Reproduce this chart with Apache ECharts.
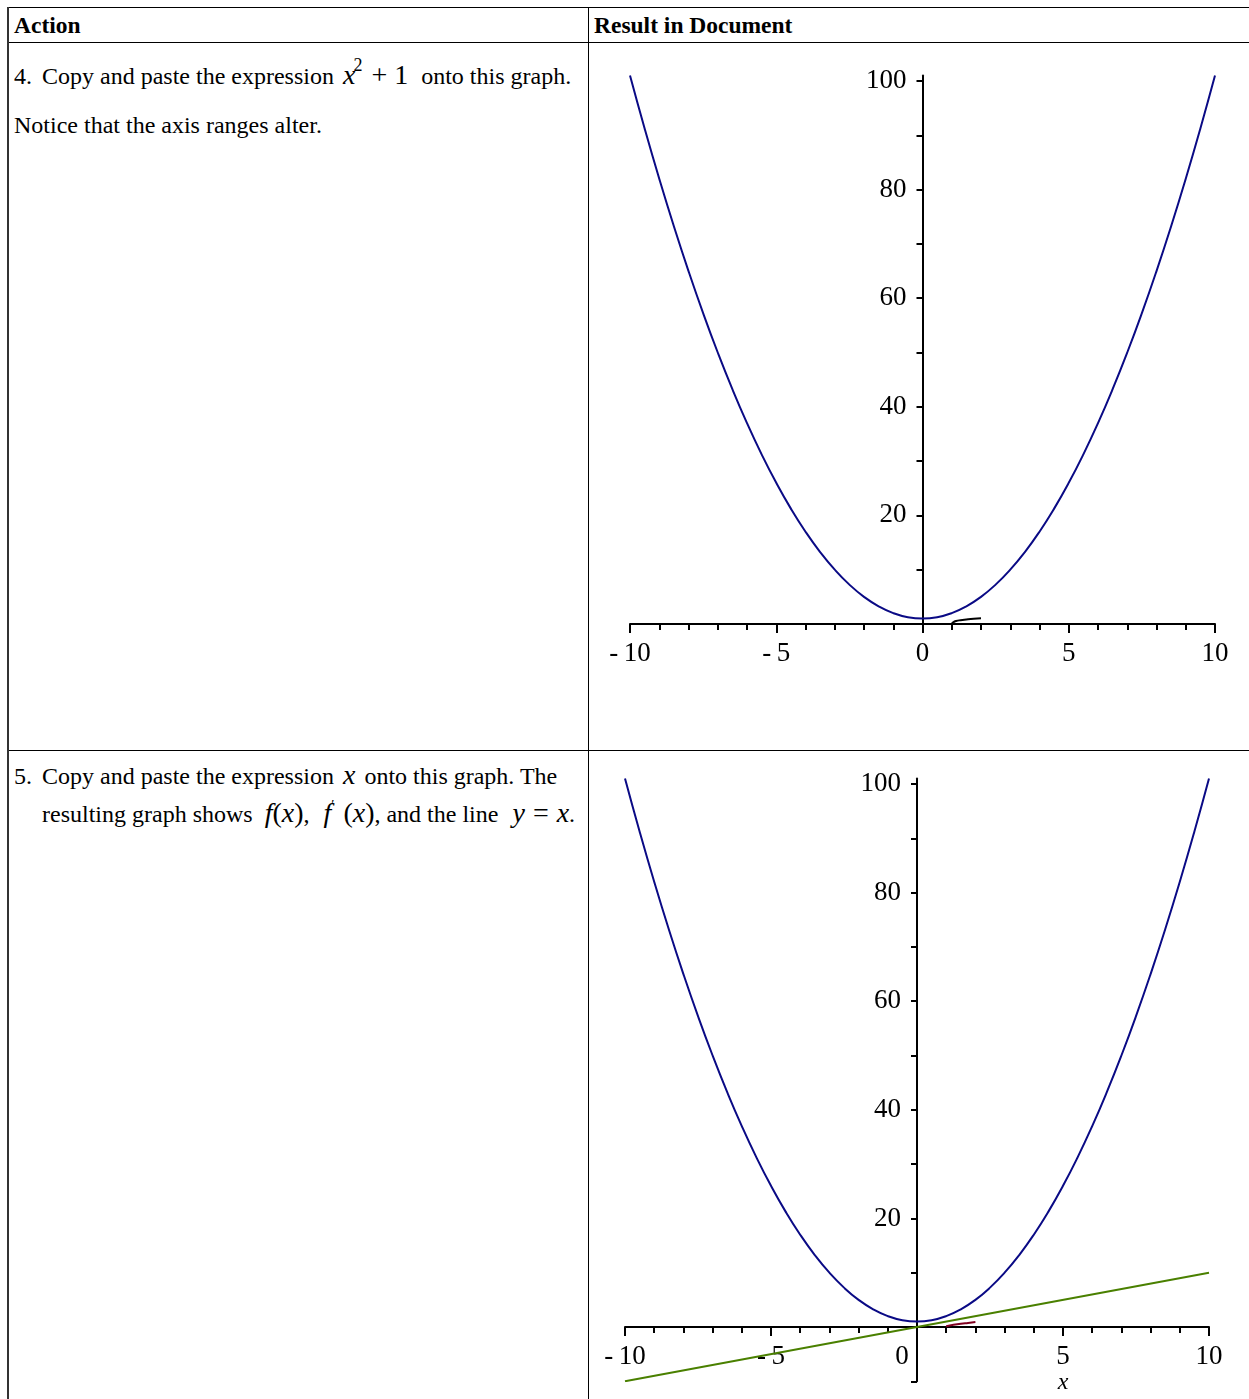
<!DOCTYPE html>
<html><head><meta charset="utf-8">
<script src="https://cdn.jsdelivr.net/npm/echarts@6/dist/echarts.min.js"></script>
<style>
html,body{margin:0;padding:0;background:#fff;width:1249px;height:1399px;overflow:hidden;}
.ln{position:absolute;background:#000;}
.t{position:absolute;font-family:'Liberation Serif','Times New Roman',serif;font-size:24px;line-height:24px;color:#000;white-space:nowrap;}
.b{font-weight:bold;font-size:23.5px;}
.m{font-style:italic;font-size:28px;line-height:0;}
.n{font-size:28px;line-height:0;}
.sp{position:relative;line-height:0;vertical-align:baseline;}
#chart{position:absolute;left:0;top:0;width:1249px;height:1399px;}
</style></head>
<body>
<div class="ln" style="left:8px;top:7px;width:1241px;height:1px;"></div>
<div class="ln" style="left:8px;top:42px;width:1241px;height:1px;"></div>
<div class="ln" style="left:8px;top:750px;width:1241px;height:1px;"></div>
<div class="ln" style="left:7px;top:7px;width:2px;height:1392px;background:#333;"></div>
<div class="ln" style="left:588px;top:7px;width:1px;height:1392px;"></div>

<div class="t b" style="left:14px;top:13px;">Action</div>
<div class="t b" style="left:594px;top:13px;">Result in Document</div>

<div class="t" style="left:14px;top:64px;">4.</div>
<div class="t" style="left:42px;top:64px;">Copy and paste the expression <span class="m" style="margin-left:3px;">x</span><span class="sp" style="font-size:18px;top:-13px;margin-left:-2px;">2</span><span class="n" style="margin-left:9px;">+</span><span class="n" style="margin-left:7px;margin-right:7px;">1</span> onto this graph.</div>
<div class="t" style="left:14px;top:113px;">Notice that the axis ranges alter.</div>

<div class="t" style="left:14px;top:764px;">5.</div>
<div class="t" style="left:42px;top:764px;">Copy and paste the expression <span class="m" style="margin:0 3px 0 3px;">x</span> onto this graph. The</div>
<div class="t" style="left:42px;top:802px;">resulting graph shows <span class="m" style="margin-left:6px;">f</span><span class="n">(</span><span class="m">x</span><span class="n">)</span>, <span class="m" style="margin-left:8px;">f</span><span class="sp" style="font-size:14px;top:-12px;">&#x2032;</span> <span class="n" style="margin-left:3px;">(</span><span class="m">x</span><span class="n">)</span>, and the line <span class="m" style="margin-left:8px;">y</span> <span class="n" style="margin:0 2px;">=</span> <span class="m">x</span>.</div>

<div id="chart"></div>
<script>
// ---- data ----
const curveX = [-10,-9.5,-9,-8.5,-8,-7.5,-7,-6.5,-6,-5.5,-5,-4.5,-4,-3.5,-3,-2.5,-2,-1.5,-1,-0.5,0,0.5,1,1.5,2,2.5,3,3.5,4,4.5,5,5.5,6,6.5,7,7.5,8,8.5,9,9.5,10];
const curveY = [101,91.25,82,73.25,65,57.25,50,43.25,37,31.25,26,21.25,17,13.25,10,7.25,5,3.25,2,1.25,1,1.25,2,3.25,5,7.25,10,13.25,17,21.25,26,31.25,37,43.25,50,57.25,65,73.25,82,91.25,101];
const lineX = [-10, 10];
const lineY = [-10, 10];
const smallX1 = [1, 1.05, 1.15, 1.3, 1.5, 1.75, 2];
const smallY1 = [0, 0.3, 0.55, 0.7, 0.82, 0.95, 1.05];
const smallX2 = [1, 1.25, 1.5, 1.75, 2];
const smallY2 = [0.15, 0.4, 0.6, 0.75, 0.9];
const yTicks1 = [0,10,20,30,40,50,60,70,80,90,100];
const yTicks2 = [-10,0,10,20,30,40,50,60,70,80,90,100];
const yLabels = [20,40,60,80,100];

const zip = (xs, ys) => xs.map((x, i) => [x, ys[i]]);
const FONT = "'Liberation Serif','Times New Roman',serif";
const blk = '#000';

// grid geometry (pixels)
const G1 = { left: 630, top: 75.6, width: 585, height: 548.4 };
const G2 = { left: 625, top: 778.6, width: 584, height: 602.7 };

function xAxis(gi, g, yMin, shiftZero, name) {
  const ySpan = 101 - yMin;
  const off = -(g.height * (0 - yMin) / ySpan); // move axis up to y = 0
  const ax = {
    type: 'value', gridIndex: gi, min: -10, max: 10, interval: 5, position: 'bottom', offset: off,
    axisLine: { onZero: false, lineStyle: { color: blk, width: 2 } },
    axisTick: { length: 9, lineStyle: { color: blk, width: 2 } },
    minorTick: { show: true, splitNumber: 5, length: 6, lineStyle: { color: blk, width: 2 } },
    splitLine: { show: false }, minorSplitLine: { show: false },
    axisLabel: {
      margin: 16, color: blk, fontFamily: FONT, fontSize: 27,
      formatter: v => v < 0 ? '-\u2009' + Math.abs(v) : (v === 0 && shiftZero ? '{z|0}' : String(v)),
      rich: { z: { fontFamily: FONT, fontSize: 27, color: blk, padding: [0, 30, 0, 0] } }
    }
  };
  if (name) {
    ax.name = name; ax.nameLocation = 'middle'; ax.nameGap = 42;
    ax.nameTextStyle = { fontFamily: FONT, fontStyle: 'italic', fontSize: 24, color: blk, padding: [0, 0, 0, 292] };
  }
  return ax;
}
function yAxis(gi, g, min, ticks) {
  const off = -(g.width / 2); // move axis right to x = 0
  return {
    type: 'value', gridIndex: gi, min: min, max: 101, interval: 10, position: 'left', offset: off,
    axisLine: { onZero: false, lineStyle: { color: blk, width: 2 } },
    axisTick: { length: 6, customValues: ticks, lineStyle: { color: blk, width: 2 } },
    splitLine: { show: false },
    axisLabel: { margin: 16, color: blk, fontFamily: FONT, fontSize: 27, customValues: yLabels }
  };
}
function ser(xi, data, color, smooth) {
  return { type: 'line', xAxisIndex: xi, yAxisIndex: xi, data: data, showSymbol: false, smooth: smooth,
    lineStyle: { color: color, width: 2 }, silent: true, animation: false };
}

const chart = echarts.init(document.getElementById('chart'));
chart.setOption({
  animation: false,
  grid: [
    Object.assign({ containLabel: false, outerBoundsMode: 'none' }, G1),
    Object.assign({ containLabel: false, outerBoundsMode: 'none' }, G2)
  ],
  xAxis: [xAxis(0, G1, 0, false, null), xAxis(1, G2, -10, true, 'x')],
  yAxis: [yAxis(0, G1, 0, yTicks1), yAxis(1, G2, -10, yTicks2)],
  series: [
    ser(0, zip(curveX, curveY), '#0a0a85', true),
    ser(0, zip(smallX1, smallY1), '#000000', true),
    ser(1, zip(curveX, curveY), '#0a0a85', true),
    ser(1, zip(lineX, lineY), '#4a8000', false),
    ser(1, zip(smallX2, smallY2), '#800020', true)
  ]
});
</script>
</body></html>
